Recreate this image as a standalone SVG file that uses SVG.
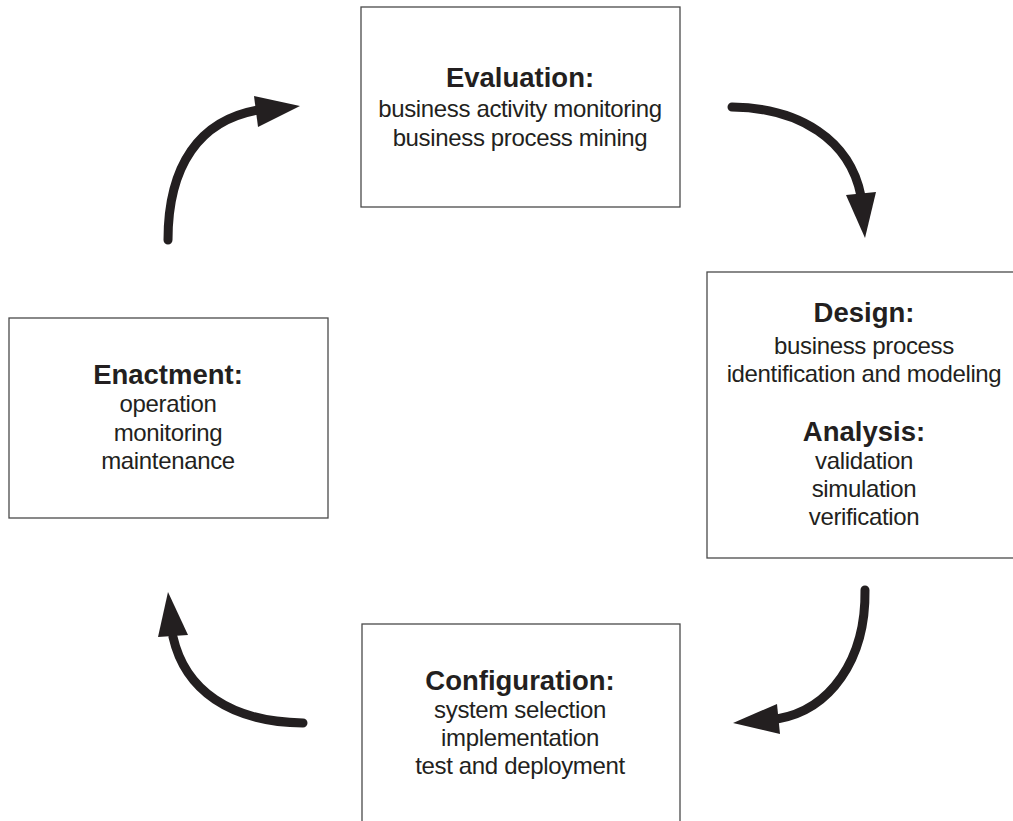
<svg xmlns="http://www.w3.org/2000/svg" width="1013" height="821" viewBox="0 0 1013 821">
<style>
.box{fill:#fff;stroke:#4a4a4a;stroke-width:1.3}
.t{font-family:"Liberation Sans",Arial,sans-serif;font-size:27.5px;font-weight:bold;fill:#231f20;text-anchor:middle}
.b{font-family:"Liberation Sans",Arial,sans-serif;font-size:24px;letter-spacing:-0.35px;fill:#231f20;text-anchor:middle}
.arc{fill:none;stroke:#231f20;stroke-width:9;stroke-linecap:round}
.head{fill:#231f20}
</style>
<rect width="1013" height="821" fill="#fff"/>
<g id="evaluation">
<rect class="box" x="361" y="7" width="319" height="200"/>
<text class="t" x="520" y="87">Evaluation:</text>
<text class="b" x="520" y="117">business activity monitoring</text>
<text class="b" x="520" y="146">business process mining</text>
</g>
<g id="design">
<rect class="box" x="707" y="272" width="320" height="286"/>
<text class="t" x="864" y="322">Design:</text>
<text class="b" x="864" y="354">business process</text>
<text class="b" x="864" y="382">identification and modeling</text>
<text class="t" x="864" y="441">Analysis:</text>
<text class="b" x="864" y="469">validation</text>
<text class="b" x="864" y="497">simulation</text>
<text class="b" x="864" y="525">verification</text>
</g>
<g id="configuration">
<rect class="box" x="362" y="624" width="318" height="220"/>
<text class="t" x="520" y="690">Configuration:</text>
<text class="b" x="520" y="718">system selection</text>
<text class="b" x="520" y="746">implementation</text>
<text class="b" x="520" y="774">test and deployment</text>
</g>
<g id="enactment">
<rect class="box" x="9" y="318" width="319" height="200"/>
<text class="t" x="168" y="384">Enactment:</text>
<text class="b" x="168" y="412">operation</text>
<text class="b" x="168" y="441">monitoring</text>
<text class="b" x="168" y="469">maintenance</text>
</g>
<g id="connectors">
<path class="arc" d="M168,240 C168,165 200,120 258,110"/>
<polygon class="head" points="254,96 300,106 258,127"/>
<path class="arc" d="M732,107 C800,108 850,140 861,196"/>
<polygon class="head" points="846,195 876,192 865,238"/>
<path class="arc" d="M865,590 C866,660 830,710 777,719"/>
<polygon class="head" points="777,704 780,734 733,723"/>
<path class="arc" d="M303,723 C230,722 185,690 173,637"/>
<polygon class="head" points="158,637 188,635 168,592"/>
</g>
</svg>
